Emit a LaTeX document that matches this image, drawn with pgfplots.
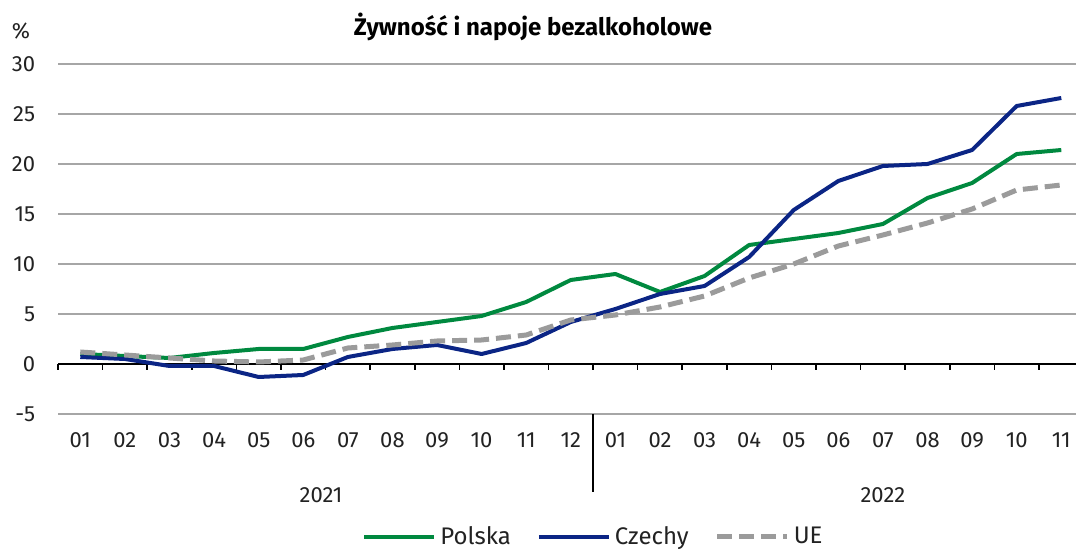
\documentclass[border=0pt]{standalone}
\usepackage{pgfplots}
\pgfplotsset{compat=1.18}
\usepackage{fontspec}
\setmainfont{Fira Sans}
\definecolor{plgreen}{HTML}{00893F}
\definecolor{czblue}{HTML}{0B2585}
\definecolor{uegray}{HTML}{9B9B9B}
\definecolor{gridgray}{HTML}{A6A6A6}
\definecolor{txt}{HTML}{222222}

\begin{document}
\fontsize{11}{13}\selectfont
\begin{tikzpicture}
\begin{axis}[
    scale only axis,
    width=509pt, height=175pt,
    xmin=-0.5, xmax=22.33,
    ymin=-5, ymax=30,
    axis line style={draw=none},
    major tick length=0pt,
    ytick={-5,0,...,30},
    ymajorgrids,
    grid style={gridgray, line width=0.7pt},
    xtick={0,...,22},
    xticklabels={01,02,03,04,05,06,07,08,09,10,11,12,01,02,03,04,05,06,07,08,09,10,11},
    xticklabel style={yshift=-5.3pt},
    yticklabel style={xshift=-7.6pt},
    tick label style={font=\fontsize{11}{13}\selectfont, text=txt},
    /pgf/number format/assume math mode=true,
    clip=false,
    legend columns=3,
    legend style={draw=none, fill=none, at={(rel axis cs:0.527,-0.3514)}, anchor=center,
        font=\fontsize{12}{14}\selectfont, text=txt,
        /tikz/every even column/.append style={column sep=11pt},
        nodes={inner sep=2pt}},
    legend image code/.code={\draw[#1] (0pt,0pt) -- (35pt,0pt);},
    every axis plot/.append style={line width=2pt, line join=round},
]

% osie i opisy
\draw[black, line width=0.8pt] (axis cs:-0.5,0) -- (axis cs:22.33,0);
\pgfplotsinvokeforeach{-0.5,0.5,...,21.5}{
    \draw[black, line width=0.8pt] (axis cs:#1,0) -- ([yshift=-3pt]axis cs:#1,0);
}
\draw[black, line width=0.8pt] (axis cs:11.5,-5) -- ([yshift=-39pt]axis cs:11.5,-5);
\node[text=txt] at ([yshift=-40.5pt]axis cs:5.4,-5) {2021};
\node[text=txt] at ([yshift=-40.5pt]axis cs:18.0,-5) {2022};
\node[text=txt] at (rel axis cs:-0.0363,1.0943) {\%};
\node[font=\bfseries\fontsize{12}{14}\selectfont] at (rel axis cs:0.4666,1.1057) {Żywność i napoje bezalkoholowe};

\addplot[plgreen] coordinates {
    (0,1.0) (1,0.8) (2,0.6) (3,1.1) (4,1.5) (5,1.5) (6,2.7) (7,3.6) (8,4.2) (9,4.8) (10,6.2) (11,8.4)
    (12,9.0) (13,7.2) (14,8.8) (15,11.9) (16,12.5) (17,13.1) (18,14.0) (19,16.6) (20,18.1) (21,21.0) (22,21.4)
};
\addlegendentry{Polska}

\addplot[czblue] coordinates {
    (0,0.7) (1,0.5) (2,-0.2) (3,-0.2) (4,-1.3) (5,-1.1) (6,0.7) (7,1.5) (8,1.9) (9,1.0) (10,2.1) (11,4.2)
    (12,5.5) (13,7.0) (14,7.8) (15,10.7) (16,15.4) (17,18.3) (18,19.8) (19,20.0) (20,21.4) (21,25.8) (22,26.6)
};
\addlegendentry{Czechy}

\addplot[uegray, line width=2.5pt, dash pattern=on 7.5pt off 3.5pt] coordinates {
    (0,1.2) (1,0.9) (2,0.6) (3,0.3) (4,0.2) (5,0.4) (6,1.6) (7,1.9) (8,2.3) (9,2.4) (10,2.9) (11,4.4)
    (12,4.9) (13,5.7) (14,6.8) (15,8.6) (16,10.0) (17,11.8) (18,12.9) (19,14.1) (20,15.5) (21,17.4) (22,17.9)
};
\addlegendentry{UE}

\coordinate (bbl) at (rel axis cs:-0.05697,-0.38571);
\coordinate (btr) at (rel axis cs:1,1.18286);
\end{axis}
\pgfresetboundingbox
\path[use as bounding box] (bbl) rectangle (btr);
\end{tikzpicture}
\end{document}
